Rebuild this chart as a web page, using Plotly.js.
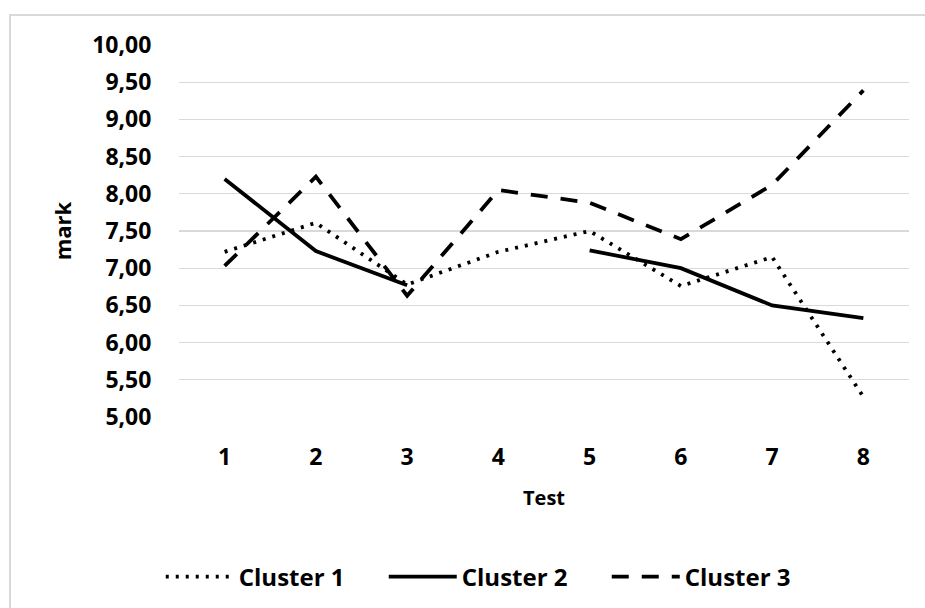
<!DOCTYPE html>
<html>
<head>
<meta charset="utf-8">
<script src="https://cdn.plot.ly/plotly-3.0.1.min.js"></script>
<style>
  html, body { margin: 0; padding: 0; background: #fff; }
  #chart { width: 925px; height: 608px; }
</style>
</head>
<body>
<div id="chart"></div>
<script>
// Data
const tests = [1, 2, 3, 4, 5, 6, 7, 8];
const tickLabels = ['1', '2', '3', '4', '5', '6', '7', '8'];
const cluster1 = [7.22, 7.61, 6.78, 7.22, 7.50, 6.76, 7.15, 5.27];
const cluster2 = [8.20, 7.23, 6.77, null, 7.24, 7.00, 6.50, 6.33];
const cluster3 = [7.03, 8.23, 6.63, 8.05, 7.88, 7.39, 8.12, 9.39];
const seriesNames = ['Cluster 1', 'Cluster 2', 'Cluster 3'];

const FONT = 'Open Sans, Noto Sans, sans-serif';

const traces = [
  { x: tests, y: cluster1, name: seriesNames[0], type: 'scatter', mode: 'lines',
    line: { color: '#000', width: 3.8, dash: '3px,7px' } },
  { x: tests, y: cluster2, name: seriesNames[1], type: 'scatter', mode: 'lines',
    connectgaps: false,
    line: { color: '#000', width: 3.8 } },
  { x: tests, y: cluster3, name: seriesNames[2], type: 'scatter', mode: 'lines',
    line: { color: '#000', width: 3.8, dash: '17px,13px' } }
];

const layout = {
  width: 925, height: 608,
  paper_bgcolor: '#fff', plot_bgcolor: '#fff',
  separators: ', ',
  font: { family: FONT, size: 23, color: '#000', weight: 700 },
  margin: { l: 179, r: 16, t: 45, b: 191, autoexpand: false },
  showlegend: true,
  xaxis: {
    range: [0.5, 8.5],
    tickvals: tests, ticktext: tickLabels,
    showgrid: false, zeroline: false, showline: false,
    ticks: 'outside', ticklen: 19, tickcolor: 'rgba(0,0,0,0)',
    tickfont: { family: FONT, size: 23, weight: 700 },
    title: { text: 'Test', font: { family: FONT, size: 20, weight: 700 }, standoff: 20 },
    fixedrange: true
  },
  yaxis: {
    range: [5, 10], dtick: 0.5, tick0: 5,
    tickformat: '.2f',
    showgrid: true, gridcolor: '#d9d9d9', gridwidth: 1.3,
    zeroline: false, showline: false,
    ticks: 'outside', ticklen: 22, tickcolor: 'rgba(0,0,0,0)',
    tickfont: { family: FONT, size: 23, weight: 700 },
    title: { text: 'mark', font: { family: FONT, size: 22, weight: 700 }, standoff: 14 },
    fixedrange: true
  },
  legend: {
    orientation: 'h',
    x: -0.025, xanchor: 'left',
    y: -0.43, yanchor: 'middle',
    font: { family: FONT, size: 24, weight: 700 },
    itemwidth: 68,
    entrywidth: 140,
    tracegroupgap: 0,
    bgcolor: 'rgba(0,0,0,0)'
  },
  shapes: [{
    type: 'rect', xref: 'paper', yref: 'paper',
    x0: (10 - 179) / 730, x1: (940 - 179) / 730,
    y0: (417 - 620) / 372, y1: (417 - 15) / 372,
    line: { color: '#d9d9d9', width: 2 }, fillcolor: 'rgba(0,0,0,0)',
    layer: 'below'
  }]
};

Plotly.newPlot('chart', traces, layout, { displayModeBar: false, staticPlot: true });
</script>
</body>
</html>
